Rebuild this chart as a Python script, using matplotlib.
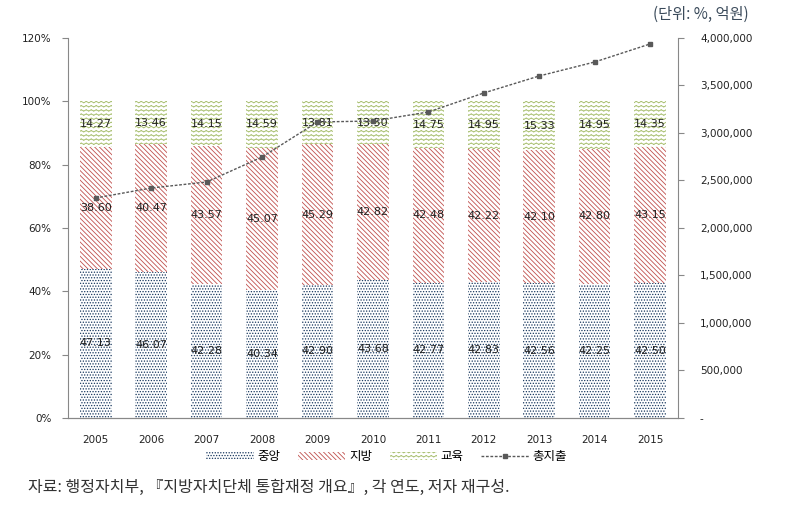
import numpy as np
import matplotlib
matplotlib.use("Agg")
import matplotlib.pyplot as plt
import matplotlib.hatch as mhatch
from matplotlib.path import Path
from matplotlib.ticker import FuncFormatter

plt.rcParams['font.family'] = ['DejaVu Sans', 'Noto Sans CJK KR']
plt.rcParams['hatch.linewidth'] = 0.6

years = ["2005", "2006", "2007", "2008", "2009", "2010", "2011", "2012", "2013", "2014", "2015"]
central = [47.13, 46.07, 42.28, 40.34, 42.90, 43.68, 42.77, 42.83, 42.56, 42.25, 42.50]
local = [38.60, 40.47, 43.57, 45.07, 45.29, 42.82, 42.48, 42.22, 42.10, 42.80, 43.15]
edu = [14.27, 13.46, 14.15, 14.59, 13.81, 13.50, 14.75, 14.95, 15.33, 14.95, 14.35]
total = [2316000, 2421000, 2484000, 2747000, 3116000, 3126000, 3221000, 3421000, 3600000, 3747000, 3937000]


# wavy hatch, takes the place of the small circles ('o') pattern
class WaveHatch(mhatch.HatchPatternBase):
    seg = 80

    def __init__(self, hatch, density):
        self.num_lines = int(hatch.count('o') * density)
        self.num_vertices = self.num_lines * (self.seg + 1)

    def set_vertices_and_codes(self, vertices, codes):
        if self.num_lines == 0:
            return
        steps, stepsize = np.linspace(0.0, 1.0, self.num_lines, False, retstep=True)
        steps += stepsize / 2.
        xs = np.linspace(0, 1, self.seg + 1)
        amp = stepsize * 0.2
        n = self.seg + 1
        for i, s in enumerate(steps):
            vertices[i * n:(i + 1) * n, 0] = xs
            vertices[i * n:(i + 1) * n, 1] = s + amp * np.sin(xs * 2 * np.pi * 20)
            codes[i * n] = Path.MOVETO
            codes[i * n + 1:(i + 1) * n] = Path.LINETO


mhatch._hatch_types = [WaveHatch if h is mhatch.SmallCircles else h for h in mhatch._hatch_types]

# 100% stacked: scale each year to its share
sums = np.array(central) + np.array(local) + np.array(edu)
p_central = np.array(central) / sums * 100
p_local = np.array(local) / sums * 100
p_edu = np.array(edu) / sums * 100

fig = plt.figure(figsize=(7.89, 5.12), dpi=100)
ax = fig.add_axes([0.0862, 0.1836, 0.7728, 0.7422])
ax2 = ax.twinx()

x = np.arange(len(years))
w = 0.57
c_blue = "#17375E"
c_red = "#C0504D"
c_green = "#A5BD6A"

b1 = ax.bar(x, p_central, w, color="white", edgecolor=c_blue, hatch="......", linewidth=0, label="중앙")
b2 = ax.bar(x, p_local, w, bottom=p_central, color="white", edgecolor=c_red, hatch="\\\\\\\\\\\\\\", linewidth=0, label="지방")
bottom2 = p_central + p_local
b3 = ax.bar(x, p_edu, w, bottom=bottom2, color="white", edgecolor=c_green, hatch="oooo", linewidth=0, label="교육")

for i in x:
    ax.text(i, p_central[i] / 2, f"{central[i]:.2f}", ha="center", va="center", fontsize=8, color="#222222")
    ax.text(i, p_central[i] + p_local[i] / 2, f"{local[i]:.2f}", ha="center", va="center", fontsize=8, color="#222222")
    ax.text(i, bottom2[i] + p_edu[i] / 2, f"{edu[i]:.2f}", ha="center", va="center", fontsize=8, color="#222222")

ln, = ax2.plot(x, total, color="#595959", linestyle=(0, (2, 1.2)), linewidth=1.0, marker="s", markersize=3.5, label="총지출")

ax.set_xlim(-0.5, len(years) - 0.5)
ax.set_ylim(0, 120)
ax.set_yticks(range(0, 121, 20))
ax.yaxis.set_major_formatter(FuncFormatter(lambda v, p: f"{int(v)}%"))
ax.set_xticks(x)
ax.set_xticklabels(years)
ax2.set_ylim(0, 4000000)
ax2.set_yticks(range(0, 4000001, 500000))
ax2.yaxis.set_major_formatter(FuncFormatter(lambda v, p: "-" if v == 0 else f"{int(v):,}"))

for a in (ax, ax2):
    a.spines["top"].set_visible(False)
    a.spines["left"].set_color("#888888")
    a.spines["right"].set_color("#888888")
    a.spines["bottom"].set_color("#888888")
    a.tick_params(labelsize=7.5, colors="#888888", labelcolor="#222222", length=4, width=0.8)
ax.tick_params(axis="x", length=0, pad=12)
ax.tick_params(axis="y", pad=8)
ax2.tick_params(axis="y", pad=12)
ax2.spines["left"].set_visible(False)
ax.spines["right"].set_visible(False)

fig.legend([b1, b2, b3, ln], ["중앙", "지방", "교육", "총지출"], loc="center", bbox_to_anchor=(0.49, 0.108),
           ncol=4, frameon=False, handlelength=3.8, handleheight=0.55, columnspacing=1.4,
           handletextpad=0.3, prop={'family': ['Noto Sans CJK KR'], 'size': 9})

fig.text(0.828, 0.972, "(단위: %, 억원)", ha="left", va="center", fontsize=11, color="#3a4a5a",
         family=['Noto Sans CJK KR'])
fig.text(0.036, 0.047, "자료: 행정자치부, 『지방자치단체 통합재정 개요』, 각 연도, 저자 재구성.", ha="left", va="center",
         fontsize=11.5, color="#333333", family=['Noto Sans CJK KR', 'DejaVu Sans'])

fig.savefig("out.png", dpi=100)
